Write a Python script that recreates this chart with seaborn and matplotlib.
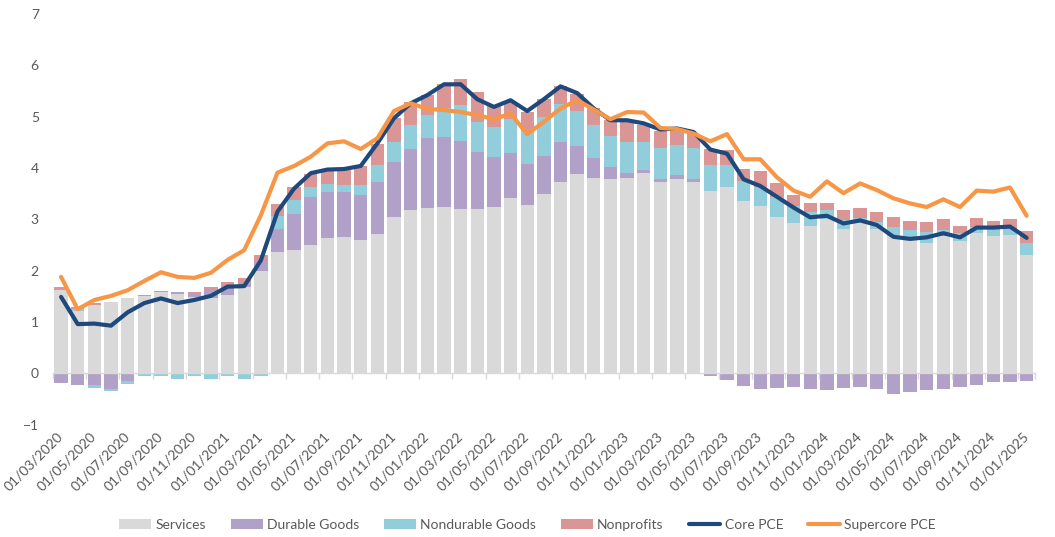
import numpy as np
import pandas as pd
import matplotlib
matplotlib.use("Agg")
import matplotlib.pyplot as plt
import seaborn as sns

# monthly categories, Mar 2020 .. Jan 2025
dates = pd.date_range("2020-03-01", "2025-01-01", freq="MS").strftime("%d/%m/%Y").tolist()

services = [1.62, 1.22, 1.33, 1.39, 1.46, 1.51, 1.59, 1.55, 1.48, 1.47,
            1.53, 1.68, 2.00, 2.37, 2.40, 2.50, 2.64, 2.66, 2.60, 2.71,
            3.05, 3.18, 3.22, 3.24, 3.20, 3.20, 3.24, 3.41, 3.28, 3.49,
            3.73, 3.89, 3.81, 3.79, 3.81, 3.90, 3.73, 3.79, 3.73, 3.55,
            3.63, 3.36, 3.26, 3.04, 2.93, 2.87, 3.00, 2.81, 2.92, 2.81,
            2.68, 2.64, 2.54, 2.68, 2.58, 2.73, 2.68, 2.70, 2.31]
durable = [-0.18, -0.22, -0.22, -0.31, -0.15, 0.00, 0.00, 0.03, 0.09, 0.16,
           0.19, 0.08, 0.18, 0.44, 0.70, 0.93, 0.89, 0.87, 0.87, 1.02,
           1.07, 1.19, 1.36, 1.36, 1.32, 1.11, 0.97, 0.88, 0.80, 0.74,
           0.77, 0.54, 0.38, 0.23, 0.09, 0.06, 0.06, 0.07, 0.06, -0.06,
           -0.12, -0.24, -0.30, -0.28, -0.26, -0.30, -0.32, -0.28, -0.26, -0.30,
           -0.40, -0.36, -0.32, -0.30, -0.26, -0.22, -0.17, -0.17, -0.15]
nondurable = [0.00, 0.04, -0.06, -0.03, -0.05, -0.06, -0.06, -0.10, -0.06, -0.11,
              -0.06, -0.10, -0.05, 0.26, 0.28, 0.20, 0.16, 0.14, 0.20, 0.33,
              0.39, 0.47, 0.45, 0.57, 0.70, 0.58, 0.58, 0.66, 0.64, 0.77,
              0.75, 0.68, 0.65, 0.60, 0.60, 0.54, 0.60, 0.58, 0.60, 0.51,
              0.43, 0.38, 0.37, 0.39, 0.33, 0.27, 0.18, 0.17, 0.10, 0.14,
              0.17, 0.15, 0.21, 0.11, 0.15, 0.12, 0.15, 0.11, 0.23]
nonprofits = [0.06, 0.04, 0.04, -0.01, -0.01, 0.02, 0.02, -0.01, 0.01, 0.05,
              0.06, 0.09, 0.13, 0.23, 0.25, 0.25, 0.25, 0.29, 0.37, 0.41,
              0.46, 0.44, 0.39, 0.46, 0.51, 0.59, 0.43, 0.34, 0.37, 0.34,
              0.34, 0.33, 0.32, 0.31, 0.40, 0.34, 0.33, 0.32, 0.28, 0.32,
              0.30, 0.25, 0.31, 0.28, 0.21, 0.18, 0.14, 0.20, 0.20, 0.19,
              0.20, 0.18, 0.20, 0.22, 0.14, 0.18, 0.14, 0.20, 0.23]
core_pce = [1.49, 0.96, 0.97, 0.93, 1.19, 1.37, 1.46, 1.37, 1.43, 1.51,
            1.69, 1.70, 2.20, 3.15, 3.60, 3.90, 3.97, 3.98, 4.04, 4.48,
            4.97, 5.26, 5.42, 5.63, 5.63, 5.34, 5.19, 5.32, 5.11, 5.34,
            5.59, 5.46, 5.16, 4.93, 4.93, 4.87, 4.75, 4.77, 4.70, 4.36,
            4.28, 3.78, 3.65, 3.44, 3.23, 3.04, 3.07, 2.92, 2.98, 2.89,
            2.66, 2.62, 2.65, 2.73, 2.65, 2.84, 2.84, 2.86, 2.64]
supercore_pce = [1.88, 1.25, 1.43, 1.51, 1.62, 1.80, 1.97, 1.88, 1.86, 1.96,
                 2.21, 2.40, 3.08, 3.91, 4.04, 4.22, 4.48, 4.52, 4.37, 4.58,
                 5.11, 5.26, 5.15, 5.13, 5.09, 5.03, 4.95, 5.06, 4.66, 4.90,
                 5.16, 5.32, 5.14, 4.95, 5.09, 5.08, 4.78, 4.76, 4.67, 4.52,
                 4.66, 4.17, 4.17, 3.82, 3.56, 3.44, 3.74, 3.51, 3.70, 3.57,
                 3.41, 3.31, 3.24, 3.39, 3.24, 3.56, 3.54, 3.62, 3.07]

grey = "#595959"
sns.set_theme(style="white")
plt.rcParams["font.family"] = ["Lato", "DejaVu Sans"]

fig = plt.figure(figsize=(10.55, 5.37), dpi=100)
ax = fig.add_axes([0.05, 0.209, 0.931, 0.765])

x = np.arange(len(dates))
pos_bottom = np.zeros(len(x))
neg_bottom = np.zeros(len(x))
stack = [("Services", services, "#D9D9D9"),
         ("Durable Goods", durable, "#B1A0C7"),
         ("Nondurable Goods", nondurable, "#92CDDC"),
         ("Nonprofits", nonprofits, "#DA9694")]
for name, vals, color in stack:
    vals = np.array(vals)
    bottom = np.where(vals >= 0, pos_bottom, neg_bottom)
    ax.bar(x, vals, bottom=bottom, width=0.8, color=color, label=name, linewidth=0)
    pos_bottom += np.clip(vals, 0, None)
    neg_bottom += np.clip(vals, None, 0)

sns.lineplot(x=x, y=core_pce, ax=ax, color="#1F497D", linewidth=3,
             label="Core PCE", solid_joinstyle="round", solid_capstyle="round")
sns.lineplot(x=x, y=supercore_pce, ax=ax, color="#F79646", linewidth=3,
             label="Supercore PCE", solid_joinstyle="round", solid_capstyle="round")
if ax.get_legend() is not None:
    ax.get_legend().remove()

ax.set_xlim(-0.5, len(x) - 0.5)
ax.set_ylim(-1, 7)
ax.set_yticks(range(-1, 8))
ax.set_xticks(x[::2])
ax.set_xticklabels(dates[::2], rotation=45, ha="right", va="center",
                   rotation_mode="anchor")
ax.tick_params(axis="x", length=0, pad=7, labelsize=10, labelcolor=grey)
ax.tick_params(axis="y", length=0, pad=10, labelsize=10, labelcolor=grey)
ax.set_xlabel("")
ax.set_ylabel("")
for s in ax.spines.values():
    s.set_visible(False)

# category axis sitting on zero
zero = ax.secondary_xaxis(0.125)
zero.set_xticks(list(np.arange(-0.5, len(x), 2)) + [len(x) - 0.5])
zero.tick_params(bottom=True, top=False, length=4, width=1, color="#D9D9D9",
                 labelbottom=False, labeltop=False, direction="out")
for s in zero.spines.values():
    s.set_color("#D9D9D9")
    s.set_linewidth(1)
zero.set_zorder(5)

handles, labels = ax.get_legend_handles_labels()
order = ["Services", "Durable Goods", "Nondurable Goods", "Nonprofits",
         "Core PCE", "Supercore PCE"]
lookup = dict(zip(labels, handles))
fig.legend([lookup[k] for k in order], order, loc="lower center",
           bbox_to_anchor=(0.5, -0.012), ncol=6, frameon=False, fontsize=10,
           labelcolor=grey, handlelength=2.3, handletextpad=0.3,
           columnspacing=1.8)

fig.savefig("out.png", dpi=100)
